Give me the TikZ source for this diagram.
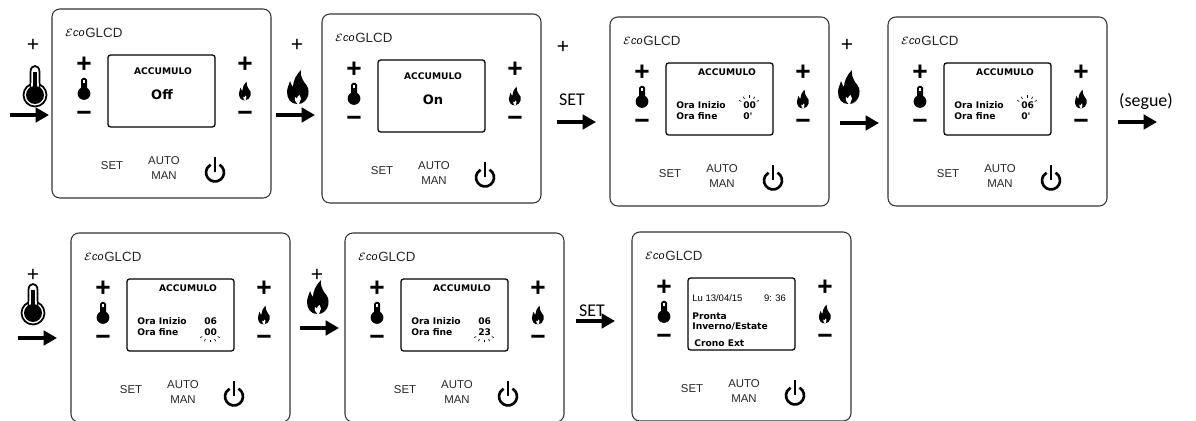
\documentclass[tikz,border=0pt]{standalone}
\usepackage{fontspec}
\setmainfont{Liberation Sans}
\newfontfamily\lcdfont{DejaVu Sans}
\newfontfamily\notefont{Carlito}
\usetikzlibrary{arrows.meta}

\newcommand{\fs}[1]{\fontsize{#1}{#1}\selectfont}

\tikzset{
	flow/.style={line width=2.3pt, -{Triangle[length=7.6pt,width=8.2pt]}},
	note/.style={inner sep=0pt, font=\notefont\fs{10.2}},
	plusmark/.style={inner sep=0pt, font=\fs{12}},
	btn/.style={inner sep=0pt, font=\bfseries\fs{15}},
	keytext/.style={inner sep=0pt, align=center, text=black!85, font=\fontsize{6.5}{8}\selectfont},
	lcdbold/.style={inner sep=0pt, font=\lcdfont\bfseries\fs{5.2}},
	lcdtext/.style={inner sep=0pt, font=\fs{5.4}},
	ray/.style={line width=0.35pt},
}

\newcommand{\bigthermo}[2]{
	\begin{scope}[shift={(#1,#2)}]
		\draw[line width=1pt, fill=white] (0,0) circle (11.5);
		\draw[line width=1pt, fill=white] (-4.5,-7) -- (-4.5,-23) .. controls (-4.5,-31) and (4.5,-31) .. (4.5,-23) -- (4.5,-7);
		\fill[white] (-4,-12) rectangle (4,-6);
		\fill (0,0) circle (9);
		\fill (-1.6,-23) rectangle (1.6,-5);
	\end{scope}
}

\newcommand{\smallthermo}[2]{
	\begin{scope}[shift={(#1,#2)}]
		\fill (0,0) circle (6.4);
		\fill[rounded corners=1pt] (-3,-15.5) rectangle (3,-3);
		\fill[white] (-0.9,-13.5) rectangle (0.9,-10.5);
	\end{scope}
}

\newcommand{\flame}[3]{
	\begin{scope}[shift={(#1,#2)}, scale=#3]
		\fill (-1,17) .. controls (-7,17) and (-11,12) .. (-11,5) .. controls (-11,1) and (-9,-2) .. (-8,-6) .. controls (-7,-3) and (-6,-1) .. (-5,0) .. controls (-5,-6) and (-2,-12) .. (3,-17) .. controls (2,-12) and (4,-9) .. (6,-5) .. controls (8,-3) and (9,-1) .. (10,1) .. controls (11,5) and (11,10) .. (7,14) .. controls (5,16) and (3,17) .. (1,17) -- cycle;
		\fill[white] (0,17.5) .. controls (-2,15.5) and (-4,13.5) .. (-3,10) .. controls (-2.5,11) and (-2,11.5) .. (-1,11.5) .. controls (-1,10) and (0,9) .. (1.5,8) .. controls (2,10) and (4,11) .. (2,14) -- (1,17.5) -- cycle;
	\end{scope}
}

% panel: name, x, y, screen content
\newcommand{\glcdpanel}[4]{
	\begin{scope}[shift={(#2,#3)}]
		\draw[black!80, line width=0.6pt, rounded corners=4.5pt] (0,0) rectangle (219,189);
		\draw[line width=0.7pt, rounded corners=1.5pt] (56,46) rectangle (163,118);
		\node[inner sep=0pt, anchor=east, font=\fs{6.2}] (#1eco) at (33,24) {$\mathcal{E}\mathit{co}$};
		\node[inner sep=0pt, anchor=west, text=black!85, font=\fs{7.6}] (#1name) at (33,24) {GLCD};
		\node[btn] (#1tplus) at (32,56) {+};
		\node[btn] (#1tminus) at (32,107) {\textminus};
		\node[btn] (#1fplus) at (193,56) {+};
		\node[btn] (#1fminus) at (193,107) {\textminus};
		\smallthermo{32}{84.5}
		\flame{193}{82}{0.55}
		\node[keytext] (#1set) at (60,157) {SET};
		\node[keytext] (#1auto) at (112,159) {AUTO\\MAN};
		\draw[line width=1.5pt] (163,163.5) ++(-60:9) arc (-60:240:9);
		\draw[line width=1.5pt] (163,148) -- (163,163);
		#4
	\end{scope}
}

\newcommand{\accumtime}[3]{
	\node[lcdbold] (#1title) at (117,55) {ACCUMULO};
	\node[lcdbold, anchor=west] (#1start) at (66,88) {Ora Inizio};
	\node[lcdbold, anchor=west] (#1end) at (66,99) {Ora fine};
	\node[lcdbold, anchor=west] (#1hstart) at (133,88.5) {#2};
	\node[lcdbold, anchor=west] (#1hend) at (133,99.5) {#3};
}

\newcommand{\blink}[3]{
	\foreach \a in {#3} {
		\draw[ray] (#1,#2) ++(\a:9 and 7) -- ++(\a:2.5 and 2.5);
	}
}

\begin{document}
\begin{tikzpicture}[x=0.02cm, y=-0.02cm]
	\useasboundingbox (0,0) rectangle (1196,421);

	\glcdpanel{pa}{52}{9}{
		\node[lcdbold] (patitle) at (111,62) {ACCUMULO};
		\node[lcdbold, font=\lcdfont\bfseries\fs{7.4}] (paval) at (110,86) {Off};
	}
	\glcdpanel{pb}{322}{14}{
		\node[lcdbold] (pbtitle) at (111,62) {ACCUMULO};
		\node[lcdbold, font=\lcdfont\bfseries\fs{7.4}] (pbval) at (111,86) {On};
	}
	\glcdpanel{pc}{610}{17}{
		\accumtime{pc}{00}{0'}
		\blink{139}{88}{-150,-120,-90,-60,-30}
	}
	\glcdpanel{pd}{888}{17}{
		\accumtime{pd}{06}{0'}
		\blink{139}{88}{-150,-120,-90,-60,-30}
	}
	\glcdpanel{pe}{71}{233}{
		\accumtime{pe}{06}{00}
		\blink{139}{100}{150,120,90,60,30}
	}
	\glcdpanel{pf}{345}{233}{
		\accumtime{pf}{06}{23}
		\blink{139}{100}{150,120,90,60,30}
	}
	\glcdpanel{pg}{632}{232}{
		\node[lcdtext, anchor=west] (pgdate) at (60,66) {Lu 13/04/15};
		\node[lcdtext] (pgtime) at (143,66) {9: 36};
		\node[lcdbold, anchor=west] (pgstate) at (60,84) {Pronta};
		\node[lcdbold, anchor=west] (pgseason) at (60,95) {Inverno/Estate};
		\node[lcdbold, anchor=west] (pgcrono) at (62,111) {Crono Ext};
	}

	\node[plusmark] (na) at (33,45) {+};
	\bigthermo{35}{95}
	\coordinate (asa) at (10,115);
	\coordinate (aea) at (49,115);
	\draw[flow] (asa) -- (aea);

	\node[plusmark] (nb) at (297,45) {+};
	\flame{298}{87}{1}
	\coordinate (asb) at (276,115);
	\coordinate (aeb) at (315,115);
	\draw[flow] (asb) -- (aeb);

	\node[plusmark] (nc) at (563,47) {+};
	\node[note] (sc) at (572,100) {SET};
	\coordinate (asc) at (557,122);
	\coordinate (aec) at (596,122);
	\draw[flow] (asc) -- (aec);

	\node[plusmark] (nd) at (847,45) {+};
	\flame{849}{87}{1}
	\coordinate (asd) at (840,123);
	\coordinate (aed) at (879,123);
	\draw[flow] (asd) -- (aed);

	\node[note] (ne) at (1146,101) {(segue)};
	\coordinate (ase) at (1118,122);
	\coordinate (aee) at (1157,122);
	\draw[flow] (ase) -- (aee);

	\node[plusmark] (nf) at (33,275) {+};
	\bigthermo{33}{313}
	\coordinate (asf) at (18,338);
	\coordinate (aef) at (57,338);
	\draw[flow] (asf) -- (aef);

	\node[plusmark] (ng) at (317,275) {+};
	\flame{318}{297}{1}
	\coordinate (asg) at (300,328);
	\coordinate (aeg) at (339,328);
	\draw[flow] (asg) -- (aeg);

	\node[note] (sh) at (592,311) {SET};
	\coordinate (ash) at (576,321);
	\coordinate (aeh) at (615,321);
	\draw[flow] (ash) -- (aeh);
\end{tikzpicture}
\end{document}
